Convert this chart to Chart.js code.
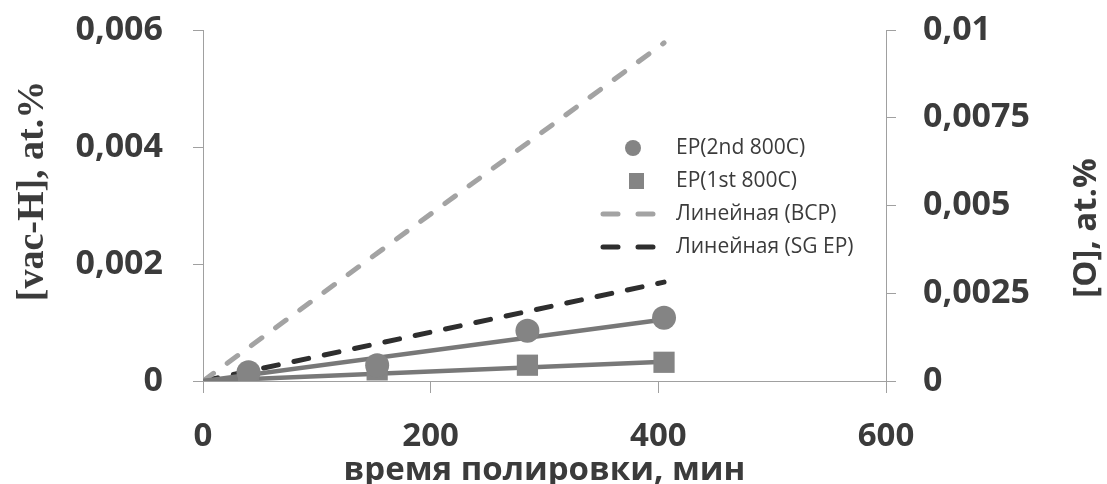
<!DOCTYPE html>
<html>
<head>
<meta charset="utf-8">
<script src="https://cdn.jsdelivr.net/npm/chart.js@4.4.1/dist/chart.umd.min.js"></script>
<style>
  html, body { margin: 0; padding: 0; background: #ffffff; }
  #wrap { width: 1107px; height: 484px; position: relative; }
</style>
</head>
<body>
<div id="wrap"><canvas id="c" width="1107" height="484"></canvas></div>
<script>
// ---- data ----
const timeEP = [40, 153, 285, 405];                       // polishing time, min
const ep2nd = [0.00015, 0.00027, 0.00086, 0.00108];        // EP(2nd 800C)
const ep1st = [0.00003, 0.00019, 0.00027, 0.00032];        // EP(1st 800C)
const trendX = [0, 405];
const trend2nd = [0, 0.00105];     // solid line through circles
const trend1st = [0, 0.00033];     // solid line through squares
const linBCP = [0, 0.00578];       // Линейная (BCP)
const linSGEP = [0, 0.00169];      // Линейная (SG EP)
const xTickLabels = ['0', '200', '400', '600'];
const leftTickLabels = ['0', '0,002', '0,004', '0,006'];
const rightTickLabels = ['0', '0,0025', '0,005', '0,0075', '0,01'];
const seriesNames = ['EP(2nd 800C)', 'EP(1st 800C)', 'Линейная (BCP)', 'Линейная (SG EP)'];
const xTitle = 'время полировки, мин';
const leftTitle = '[vac-H], at.%';
const rightTitle = '[O], at.%';

const pts = (xs, ys) => xs.map((x, i) => ({ x: x, y: ys[i] }));

const TEXT = '#3b3b3b';
const AXIS = '#a0a0a0';

const datasets = [
  { label: seriesNames[0], data: pts(timeEP, ep2nd), showLine: false,
    pointStyle: 'circle', pointRadius: 12, backgroundColor: '#848484', borderColor: '#848484', borderWidth: 0, legendKind: 'circle' },
  { label: seriesNames[1], data: pts(timeEP, ep1st), showLine: false,
    pointStyle: 'rect', pointRadius: 15, backgroundColor: '#848484', borderColor: '#848484', borderWidth: 0, legendKind: 'rect' },
  { label: 'trend2', data: pts(trendX, trend2nd), showLine: true, pointRadius: 0,
    borderColor: '#787878', borderWidth: 4.5 },
  { label: 'trend1', data: pts(trendX, trend1st), showLine: true, pointRadius: 0,
    borderColor: '#787878', borderWidth: 4.5 },
  { label: seriesNames[2], data: pts(trendX, linBCP), showLine: true, pointRadius: 0,
    borderColor: '#a3a3a3', borderWidth: 5, borderDash: [13, 17], borderCapStyle: 'round', legendKind: 'dash' },
  { label: seriesNames[3], data: pts(trendX, linSGEP), showLine: true, pointRadius: 0,
    borderColor: '#2e2e2e', borderWidth: 5, borderDash: [15, 16], borderCapStyle: 'round', legendKind: 'dash' }
];

const legendPlugin = {
  id: 'customLegend',
  afterDraw(chart) {
    const ctx = chart.ctx;
    const items = chart.data.datasets.filter(d => d.legendKind);
    const ordered = seriesNames.map(n => items.find(d => d.label === n));
    const x0 = 600, textX = 676, y0 = 148, dy = 33;
    ctx.save();
    ctx.font = '21px "Open Sans"';
    ctx.textBaseline = 'middle';
    ctx.textAlign = 'left';
    ordered.forEach((d, i) => {
      const y = y0 + i * dy;
      if (d.legendKind === 'circle') {
        ctx.fillStyle = d.backgroundColor;
        ctx.beginPath(); ctx.arc(633, y, 8, 0, Math.PI * 2); ctx.fill();
      } else if (d.legendKind === 'rect') {
        ctx.fillStyle = d.backgroundColor;
        ctx.fillRect(629, y - 8, 15, 16);
      } else {
        ctx.strokeStyle = d.borderColor;
        ctx.lineWidth = 5;
        ctx.lineCap = 'round';
        ctx.beginPath();
        ctx.moveTo(x0 + 3, y); ctx.lineTo(x0 + 18, y);
        ctx.moveTo(x0 + 38, y); ctx.lineTo(x0 + 53, y);
        ctx.stroke();
      }
      ctx.fillStyle = TEXT;
      ctx.fillText(d.label, textX, y);
    });

    // vertical axis titles (both read bottom-to-top, as in the reference)
    ctx.fillStyle = TEXT;
    ctx.textAlign = 'center';
    ctx.textBaseline = 'middle';
    ctx.save();
    ctx.translate(33, 191);
    ctx.rotate(-Math.PI / 2);
    ctx.font = 'bold 38px "Liberation Serif"';
    ctx.fillText(leftTitle, 0, 0);
    ctx.restore();
    ctx.save();
    ctx.translate(1087, 228);
    ctx.rotate(-Math.PI / 2);
    ctx.font = 'bold 33px "Open Sans"';
    ctx.fillText(rightTitle, 0, 0);
    ctx.restore();
    ctx.restore();
  }
};

const noPad = s => { s.paddingTop = 0; s.paddingBottom = 0; s.paddingLeft = 0; s.paddingRight = 0; };

new Chart(document.getElementById('c'), {
  type: 'scatter',
  data: { datasets: datasets },
  options: {
    responsive: false,
    animation: false,
    layout: { padding: { top: 30, left: 0, right: 0, bottom: 0 } },
    plugins: { legend: { display: false }, tooltip: { enabled: false } },
    scales: {
      x: {
        type: 'linear', min: 0, max: 600,
        afterFit: s => { s.height = 103; noPad(s); },
        afterBuildTicks: s => { s.ticks = xTickLabels.map((t, i) => ({ value: i * 200 })); },
        ticks: { callback: (v, i) => xTickLabels[i], color: TEXT, padding: 24,
          font: { family: 'Open Sans', size: 33, weight: 'bold' }, maxRotation: 0 },
        grid: { drawOnChartArea: false, drawTicks: true, tickLength: 12, color: AXIS },
        border: { display: true, color: AXIS, width: 1 },
        title: { display: true, text: xTitle, color: TEXT,
          font: { family: 'Open Sans', size: 33, weight: 'bold', lineHeight: 1.0 }, padding: { top: 0, bottom: -3 } }
      },
      y: {
        type: 'linear', position: 'left', min: 0, max: 0.006,
        afterFit: s => { s.width = 203; noPad(s); },
        afterBuildTicks: s => { s.ticks = leftTickLabels.map((t, i) => ({ value: i * 0.002 })); },
        ticks: { callback: (v, i) => leftTickLabels[i], color: TEXT, padding: 30,
          font: { family: 'Open Sans', size: 34, weight: 'bold' } },
        grid: { drawOnChartArea: false, drawTicks: true, tickLength: 10, color: AXIS },
        border: { display: true, color: AXIS, width: 1 },
        title: { display: false }
      },
      y2: {
        type: 'linear', position: 'right', min: 0, max: 0.01,
        afterFit: s => { s.width = 221; noPad(s); },
        afterBuildTicks: s => { s.ticks = rightTickLabels.map((t, i) => ({ value: i * 0.0025 })); },
        ticks: { callback: (v, i) => rightTickLabels[i], color: TEXT, padding: 27,
          font: { family: 'Open Sans', size: 34, weight: 'bold' } },
        grid: { drawOnChartArea: false, drawTicks: true, tickLength: 10, color: AXIS },
        border: { display: true, color: AXIS, width: 1 },
        title: { display: false }
      }
    }
  },
  plugins: [legendPlugin]
});
</script>
</body>
</html>
